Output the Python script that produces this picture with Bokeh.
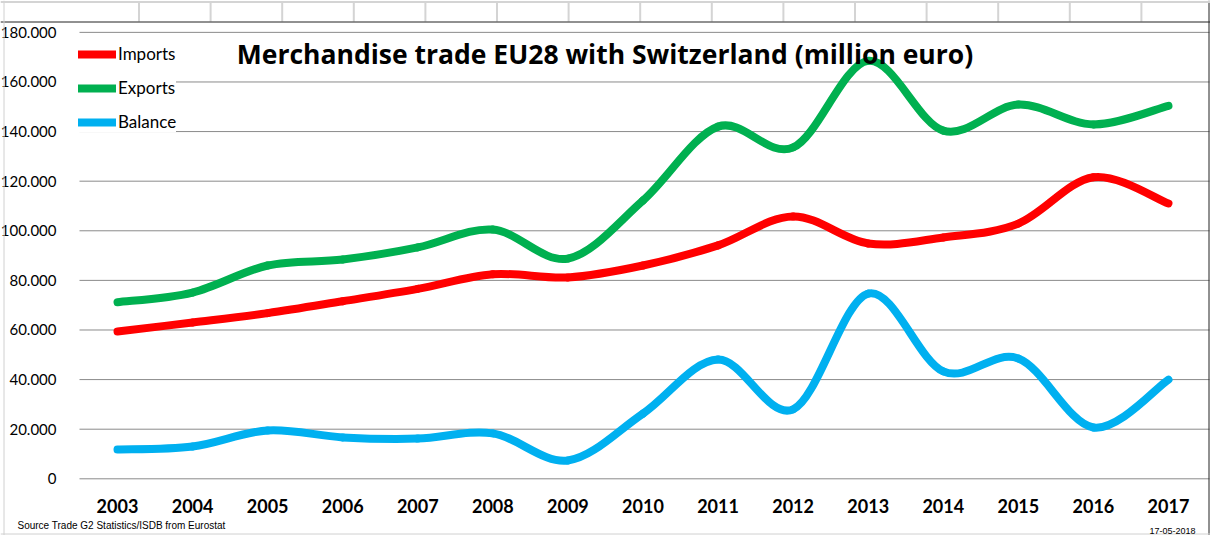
from bokeh.plotting import figure
from bokeh.models import Range1d, FixedTicker, Legend, LegendItem, Label, ColumnDataSource, Span
from bokeh.embed import file_html
from bokeh.resources import INLINE

years = ["2003", "2004", "2005", "2006", "2007", "2008", "2009", "2010",
         "2011", "2012", "2013", "2014", "2015", "2016", "2017"]
imports = [59400, 63000, 66800, 71600, 76600, 82500, 81200, 86000,
           94100, 105800, 94900, 97300, 102900, 121600, 111000]
exports = [71200, 75100, 86000, 88400, 93300, 100500, 88800, 112200,
           142000, 133600, 168500, 140400, 150900, 142900, 150400]
balance = [11800, 13000, 19500, 16700, 16200, 18300, 7400, 26300,
           48100, 28000, 74700, 43300, 48500, 20700, 40000]
y_ticks = [0, 20000, 40000, 60000, 80000, 100000, 120000, 140000, 160000, 180000]
y_tick_labels = ["0", "20.000", "40.000", "60.000", "80.000", "100.000",
                 "120.000", "140.000", "160.000", "180.000"]

title_text = "Merchandise trade EU28 with Switzerland (million euro)"
source_text = "Source  Trade G2 Statistics/ISDB  from Eurostat"
date_text = "17-05-2018"

FONT = "Lato"
W, H = 1210, 535

# pixel -> data helpers (layout only)
X0_PX, X_STEP = 117.0, 75.07      # pixel of first category, pixels per category
Y0_PX, Y_PER_PX = 478.3, 403.2    # pixel of value 0, value per pixel


def xd(px):
    return (px - X0_PX) / X_STEP


def yd(py):
    return (Y0_PX - py) * Y_PER_PX


p = figure(width=W, height=H, output_backend="svg", toolbar_location=None,
           x_range=Range1d(xd(0), xd(W)), y_range=Range1d(yd(H), yd(0)),
           min_border_left=0, min_border_right=0, min_border_top=0,
           min_border_bottom=0)
p.background_fill_color = "white"
p.border_fill_color = "white"
p.outline_line_color = None

plot_left = xd(79)
plot_right = xd(1209)

# axes inside the frame
p.xaxis.fixed_location = 0
p.xaxis.ticker = FixedTicker(ticks=list(range(len(years))))
p.xaxis.major_label_overrides = {i: y for i, y in enumerate(years)}
p.xaxis.major_label_text_font = FONT
p.xaxis.major_label_text_font_style = "bold"
p.xaxis.major_label_text_font_size = "18px"
p.xaxis.major_label_text_color = "black"
p.xaxis.major_label_standoff = 14
p.xaxis.axis_line_color = None
p.xaxis.major_tick_line_color = None
p.xaxis.minor_tick_line_color = None

p.yaxis.fixed_location = plot_left
p.yaxis.ticker = FixedTicker(ticks=y_ticks)
p.yaxis.major_label_overrides = {t: l for t, l in zip(y_ticks, y_tick_labels)}
p.yaxis.major_label_text_font = FONT
p.yaxis.major_label_text_font_size = "15px"
p.yaxis.major_label_text_color = "black"
p.yaxis.major_label_standoff = 17
p.yaxis.axis_line_color = None
p.yaxis.major_tick_line_color = None
p.yaxis.minor_tick_line_color = None

p.xgrid.visible = False
p.ygrid.visible = False

# horizontal gridlines at the value-axis ticks, across the plot area only
p.segment(x0=[plot_left] * len(y_ticks), x1=[plot_right] * len(y_ticks),
          y0=y_ticks, y1=y_ticks, line_color="#8a8a8a", line_width=1)

# spreadsheet cell lines above the chart (decoration)
band_px = [138.5 + 71.6 * k for k in range(15)]
p.segment(x0=[xd(v) for v in band_px], x1=[xd(v) for v in band_px],
          y0=[yd(1)] * len(band_px), y1=[yd(21)] * len(band_px),
          line_color="#d4d4d4", line_width=2)

# chart-area borders
p.add_layout(Span(location=yd(21.5), dimension="width", line_color="#222222", line_width=1))
p.add_layout(Span(location=xd(1208.5), dimension="height", line_color="#222222", line_width=1))
p.add_layout(Span(location=xd(3.5), dimension="height", line_color="#d0d0d0", line_width=1))
p.add_layout(Span(location=yd(533.5), dimension="width", line_color="#d0d0d0", line_width=1))
p.add_layout(Span(location=yd(1.5), dimension="width", line_color="#d4d4d4", line_width=2))


def bezier_source(vals):
    n = len(vals)
    xs = list(range(n))
    d = dict(x0=[], y0=[], x1=[], y1=[], cx0=[], cy0=[], cx1=[], cy1=[])
    for i in range(n - 1):
        i0 = max(i - 1, 0)
        i3 = min(i + 2, n - 1)
        xa, ya = xs[i], vals[i]
        xb, yb = xs[i + 1], vals[i + 1]
        d["x0"].append(xa); d["y0"].append(ya)
        d["x1"].append(xb); d["y1"].append(yb)
        d["cx0"].append(xa + (xb - xs[i0]) / 6.0)
        d["cy0"].append(ya + (yb - vals[i0]) / 6.0)
        d["cx1"].append(xb - (xs[i3] - xa) / 6.0)
        d["cy1"].append(yb - (vals[i3] - ya) / 6.0)
    return ColumnDataSource(d)


series = [("Imports", imports, "#FF0000"),
          ("Exports", exports, "#00B050"),
          ("Balance", balance, "#00B0F0")]
items = []
for name, vals, col in series:
    r = p.bezier(x0="x0", y0="y0", x1="x1", y1="y1", cx0="cx0", cy0="cy0",
                 cx1="cx1", cy1="cy1", source=bezier_source(vals),
                 line_color=col, line_width=8, line_cap="round")
    items.append(LegendItem(label=name, renderers=[r]))

legend = Legend(items=items, location=(78, 403), orientation="vertical",
                padding=2, margin=0, spacing=13, glyph_width=38, glyph_height=20,
                label_height=20, label_standoff=2, label_text_font=FONT,
                label_text_font_size="17px", label_text_color="black",
                background_fill_color="white", background_fill_alpha=1.0,
                border_line_color=None)
p.add_layout(legend, "center")

p.add_layout(Label(x=xd(604.5), y=yd(53), text=title_text, text_align="center",
                   text_baseline="alphabetic", text_font="Open Sans",
                   text_font_style="bold", text_font_size="26.5px",
                   text_color="black"))
p.add_layout(Label(x=xd(17), y=yd(525), text=source_text, text_align="left",
                   text_baseline="alphabetic", text_font="Liberation Sans",
                   text_font_size="10px", text_color="black"))
p.add_layout(Label(x=xd(1195), y=yd(530), text=date_text, text_align="right",
                   text_baseline="alphabetic", text_font="Liberation Sans",
                   text_font_size="9px", text_color="black"))

open("out.html", "w").write(file_html(p, INLINE))
